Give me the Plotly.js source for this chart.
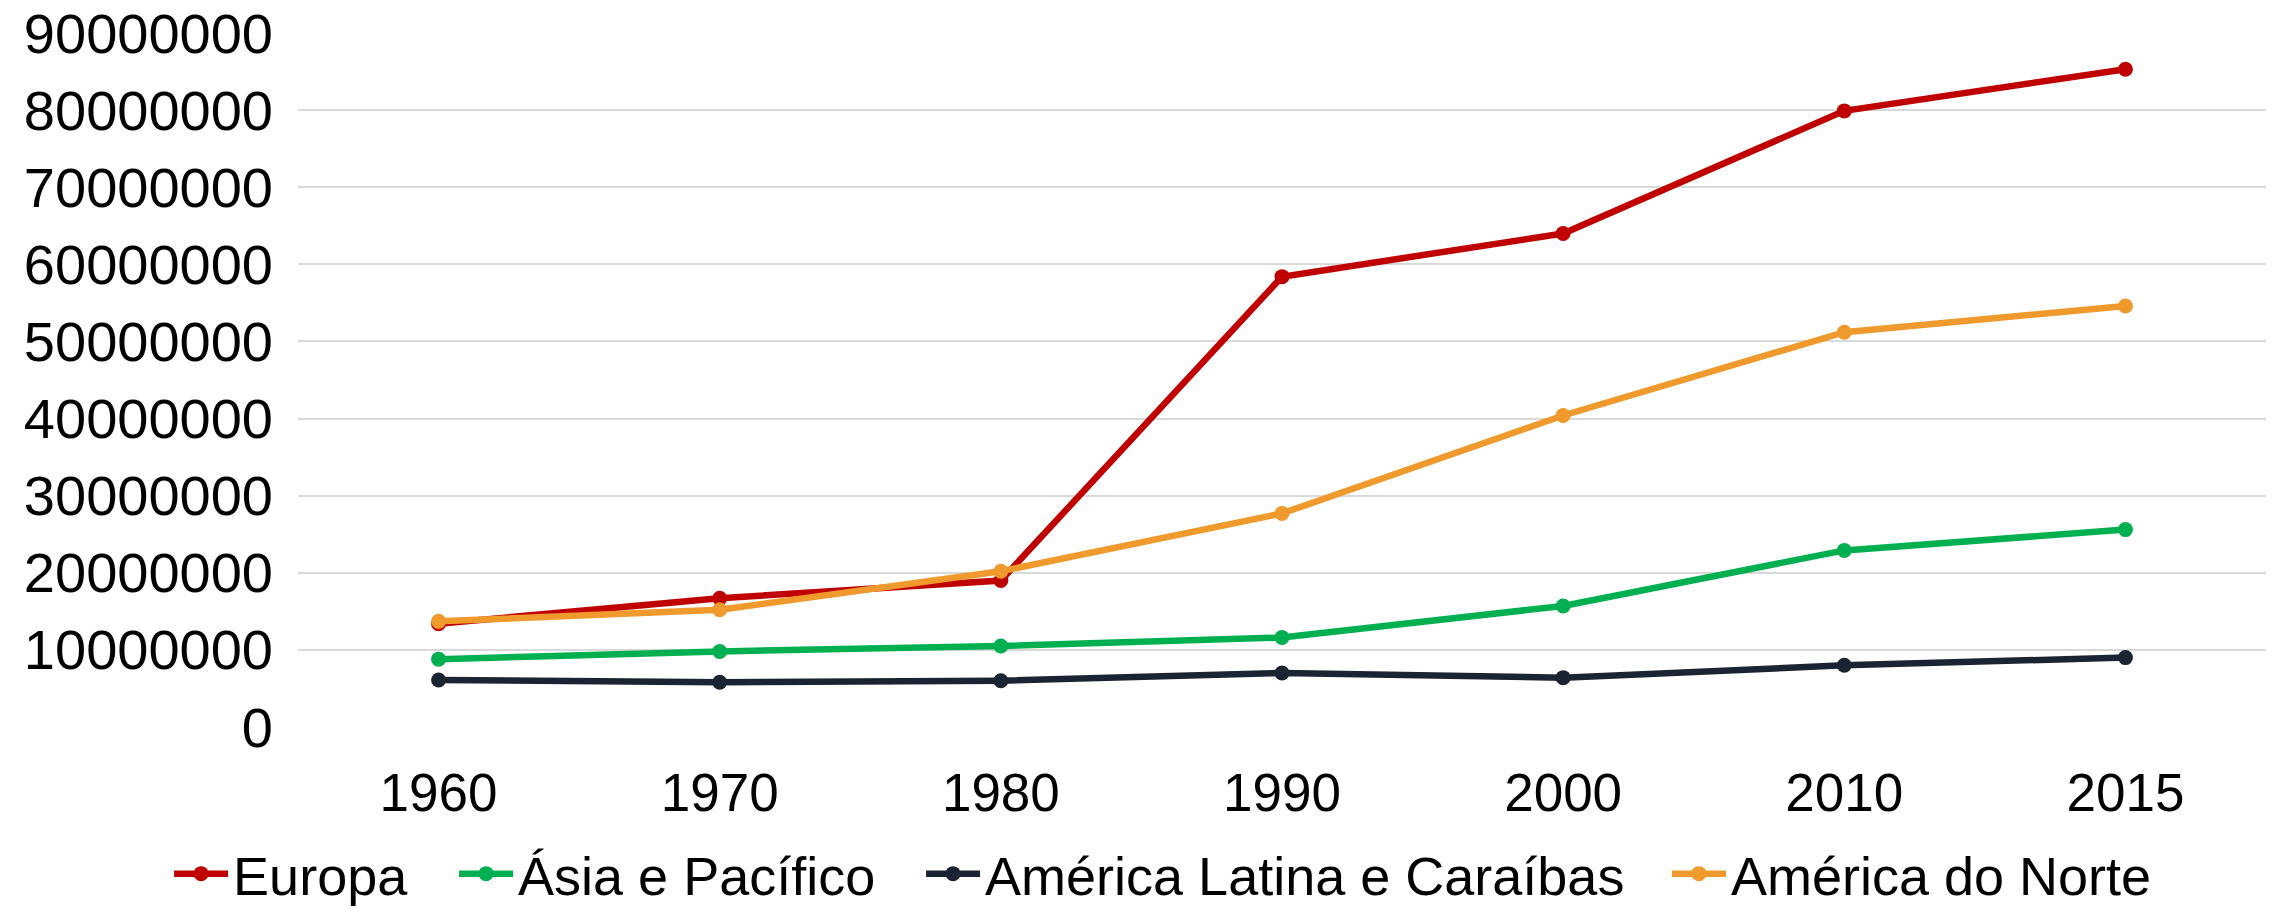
<!DOCTYPE html>
<html>
<head>
<meta charset="utf-8">
<script src="https://cdn.plot.ly/plotly-3.0.1.min.js"></script>
<style>html,body{margin:0;padding:0;background:#fff;}#chart{width:2280px;height:908px;}</style>
</head>
<body>
<div id="chart"></div>
<script>
const years = ["1960", "1970", "1980", "1990", "2000", "2010", "2015"];
const europa = [13400000, 16700000, 19000000, 58400000, 64000000, 79900000, 85300000];
const asiaPacifico = [8800000, 9800000, 10500000, 11600000, 15700000, 22900000, 25600000];
const americaLatina = [6100000, 5800000, 6000000, 7000000, 6400000, 8000000, 9000000];
const americaNorte = [13700000, 15200000, 20200000, 27700000, 40400000, 51200000, 54600000];
const seriesNames = ["Europa", "Ásia e Pacífico", "América Latina e Caraíbas", "América do Norte"];
const seriesColors = ["#C00000", "#00B050", "#1B2433", "#F0992C"];

const seriesValues = [europa, asiaPacifico, americaLatina, americaNorte];
const legendIds = ["legend", "legend2", "legend3", "legend4"];
const legendX = [-0.0655, 0.0793, 0.3166, 0.6956];

const traces = seriesValues.map((vals, i) => ({
  type: "scatter",
  mode: "lines+markers",
  x: years,
  y: vals,
  name: seriesNames[i],
  legend: legendIds[i],
  line: {color: seriesColors[i], width: 6.5},
  marker: {color: seriesColors[i], size: 15}
}));

const font = {family: "Liberation Sans, Arial, sans-serif", color: "#000000"};

const layout = {
  width: 2280,
  height: 908,
  margin: {l: 298, r: 14, t: 33, b: 181, autoexpand: false},
  paper_bgcolor: "#ffffff",
  plot_bgcolor: "#ffffff",
  font: Object.assign({size: 52}, font),
  showlegend: true,
  xaxis: {
    type: "category",
    range: [-0.5, 6.5],
    showgrid: false,
    zeroline: false,
    showline: false,
    ticks: "",
    tickangle: 0,
    automargin: false,
    ticklabelstandoff: 30,
    tickfont: Object.assign({size: 53}, font)
  },
  yaxis: {
    range: [0, 90000000],
    dtick: 10000000,
    tick0: 0,
    tickformat: "d",
    showgrid: true,
    gridcolor: "#D9D9D9",
    gridwidth: 2,
    zeroline: false,
    showline: false,
    ticks: "",
    automargin: false,
    ticklabelstandoff: 24,
    tickfont: Object.assign({size: 56}, font)
  }
};

legendIds.forEach((id, i) => {
  layout[id] = {
    orientation: "h",
    xref: "paper",
    yref: "container",
    x: legendX[i],
    xanchor: "left",
    y: 0.0374,
    yanchor: "middle",
    itemwidth: 54,
    bgcolor: "rgba(0,0,0,0)",
    font: Object.assign({size: 54}, font)
  };
});

Plotly.newPlot("chart", traces, layout, {displayModeBar: false, staticPlot: true});
</script>
</body>
</html>
